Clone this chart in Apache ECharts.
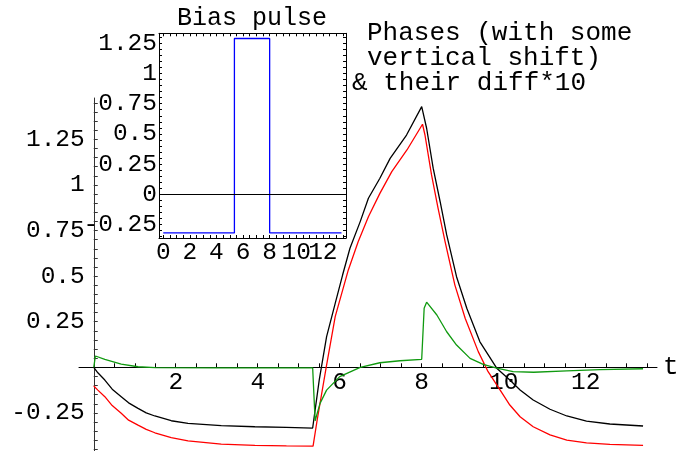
<!DOCTYPE html>
<html>
<head>
<meta charset="utf-8">
<script src="https://cdn.jsdelivr.net/npm/echarts@6/dist/echarts.min.js"></script>
<style>html,body{margin:0;padding:0;background:#fff}#c{width:678px;height:451px}</style>
</head>
<body>
<div id="c"></div>
<script>
// ---- data ----
const blackPhase = [[0,0],[0.1,-0.03],[0.27,-0.07],[0.45,-0.12],[0.67,-0.161],[0.85,-0.195],[1.08,-0.225],[1.28,-0.25],[1.49,-0.267],[1.89,-0.293],[2.3,-0.307],[3.11,-0.32],[3.93,-0.326],[4.7,-0.329],[5.34,-0.333],
  [5.5,-0.07],[5.68,0.168],[5.89,0.351],[6.07,0.506],[6.25,0.653],[6.5,0.799],[6.7,0.927],[6.98,1.037],[7.23,1.146],[7.63,1.274],[8.0,1.43],
  [8.12,1.311],[8.28,1.092],[8.45,0.908],[8.61,0.726],[8.85,0.497],[9.1,0.324],[9.42,0.14],[9.83,-0.005],[10.15,-0.07],[10.4,-0.124],[10.72,-0.179],[11.13,-0.23],[11.54,-0.267],[12.02,-0.295],[12.59,-0.311],[13.4,-0.322]];
const redPhase = [[0,-0.103],[0.1,-0.125],[0.27,-0.161],[0.45,-0.21],[0.67,-0.252],[0.85,-0.29],[1.08,-0.317],[1.28,-0.34],[1.49,-0.359],[1.89,-0.386],[2.3,-0.403],[3.11,-0.421],[3.93,-0.428],[4.7,-0.431],[5.35,-0.432],
  [5.45,-0.289],[5.67,0.0],[5.89,0.278],[6.21,0.534],[6.45,0.689],[6.7,0.826],[6.98,0.954],[7.27,1.073],[7.64,1.192],[8.02,1.333],
  [8.08,1.274],[8.24,1.055],[8.4,0.872],[8.57,0.689],[8.81,0.451],[9.06,0.269],[9.38,0.086],[9.62,-0.024],[9.91,-0.124],[10.15,-0.207],[10.4,-0.271],[10.72,-0.326],[11.13,-0.371],[11.54,-0.399],[12.02,-0.414],[12.59,-0.423],[13.4,-0.428]];
const diffTimes10 = [[0,0],[0.04,0.062],[0.27,0.044],[0.67,0.018],[1.08,0.003],[1.5,-0.002],[3,-0.003],[5.34,-0.003],[5.4,-0.293],[5.52,-0.198],[5.68,-0.125],[6.0,-0.051],[6.5,0],[6.98,0.025],[7.47,0.036],[8.0,0.044],
  [8.06,0.324],[8.12,0.357],[8.37,0.287],[8.61,0.195],[8.85,0.122],[9.18,0.049],[9.5,0.016],[9.83,-0.005],[10.23,-0.024],[10.73,-0.027],[11.54,-0.02],[12.35,-0.013],[13.4,-0.008]];
const biasPulse = [[0,-0.32],[5.35,-0.32],[5.35,1.29],[8.0,1.29],[8.0,-0.32],[13.4,-0.32]];

// ---- tick labels / tick positions ----
const mainXLabels = [2,4,6,8,10,12];
const mainXTicks = [0.5,1,1.5,2,2.5,3,3.5,4,4.5,5,5.5,6,6.5,7,7.5,8,8.5,9,9.5,10,10.5,11,11.5,12,12.5,13,13.5];
const mainYLabels = [-0.25,0.25,0.5,0.75,1,1.25];
const mainYTicks = [-0.45,-0.4,-0.35,-0.3,-0.25,-0.2,-0.15,-0.1,-0.05,0.05,0.1,0.15,0.2,0.25,0.3,0.35,0.4,0.45,0.5,0.55,0.6,0.65,0.7,0.75,0.8,0.85,0.9,0.95,1,1.05,1.1,1.15,1.2,1.25,1.3,1.35,1.4,1.45];
const insetXLabelsA = [0,2,4,6,8,12];
const insetXLabelsB = [10];
const insetXTicks = [0,0.5,1,1.5,2,2.5,3,3.5,4,4.5,5,5.5,6,6.5,7,7.5,8,8.5,9,9.5,10,10.5,11,11.5,12,12.5,13,13.5];
const insetYLabels = [-0.25,0,0.25,0.5,0.75,1,1.25];
const insetYTicks = [-0.35,-0.3,-0.25,-0.2,-0.15,-0.1,-0.05,0,0.05,0.1,0.15,0.2,0.25,0.3,0.35,0.4,0.45,0.5,0.55,0.6,0.65,0.7,0.75,0.8,0.85,0.9,0.95,1,1.05,1.1,1.15,1.2,1.25,1.3];

// ---- ranges ----
const mainX = [-0.36, 13.74], mainY = [-0.459, 1.477];
const insetX = [-0.32, 13.74], insetY = [-0.362, 1.333];
const G0 = {left: 79, top: 98, width: 578, height: 353};
const G1 = {left: 159, top: 33.3, width: 187, height: 204.7};
// axis lines sit at the other axis' zero
const xOff = -(G0.height * (0 - mainY[0]) / (mainY[1] - mainY[0]));
const yOff = -(G0.width * (0 - mainX[0]) / (mainX[1] - mainX[0]));

const FONT = 'Liberation Mono';
const lab = {fontFamily: FONT, fontSize: 24.5, color: '#000', hideOverlap: false, showMinLabel: true, showMaxLabel: true};
const noAxisParts = {axisLine: {show: false}, axisTick: {show: false}, splitLine: {show: false}};

const chart = echarts.init(document.getElementById('c'), null, {renderer: 'canvas'});
chart.setOption({
  animation: false,
  backgroundColor: '#fff',
  grid: [
    Object.assign({outerBoundsMode: 'none', containLabel: false}, G0),
    Object.assign({outerBoundsMode: 'none', containLabel: false}, G1)
  ],
  xAxis: [
    {type: 'value', gridIndex: 0, min: mainX[0], max: mainX[1], position: 'bottom', offset: xOff,
     axisLine: {onZero: false, lineStyle: {color: '#000', width: 1}},
     axisTick: {inside: true, length: 4, customValues: mainXTicks, lineStyle: {color: '#000'}},
     axisLabel: Object.assign({customValues: mainXLabels, margin: 3}, lab),
     splitLine: {show: false},
     name: 't', nameLocation: 'end', nameGap: 6,
     nameTextStyle: {fontFamily: FONT, fontSize: 26, color: '#000'}},
    {type: 'value', gridIndex: 1, min: insetX[0], max: insetX[1], position: 'bottom',
     axisLine: {onZero: false, lineStyle: {color: '#000', width: 1}},
     axisTick: {inside: true, length: 3, customValues: insetXTicks, lineStyle: {color: '#000'}},
     axisLabel: Object.assign({customValues: insetXLabelsA, margin: 2}, lab),
     splitLine: {show: false}},
    Object.assign({type: 'value', gridIndex: 1, min: insetX[0], max: insetX[1], position: 'bottom',
     axisLabel: Object.assign({customValues: insetXLabelsB, margin: 2}, lab)}, noAxisParts),
    {type: 'value', gridIndex: 1, min: insetX[0], max: insetX[1], position: 'top',
     axisLine: {onZero: false, lineStyle: {color: '#000', width: 1}},
     axisTick: {inside: true, length: 3, customValues: insetXTicks, lineStyle: {color: '#000'}},
     axisLabel: {show: false}, splitLine: {show: false}}
  ],
  yAxis: [
    {type: 'value', gridIndex: 0, min: mainY[0], max: mainY[1], position: 'left', offset: yOff,
     axisLine: {show: true, onZero: false, lineStyle: {color: '#333', width: 1}},
     axisTick: {show: true, inside: true, length: 4, customValues: mainYTicks, lineStyle: {color: '#333'}},
     axisLabel: Object.assign({customValues: mainYLabels, margin: 9}, lab),
     splitLine: {show: false}},
    {type: 'value', gridIndex: 1, min: insetY[0], max: insetY[1], position: 'left',
     axisLine: {show: true, onZero: false, lineStyle: {color: '#000', width: 1}},
     axisTick: {show: true, inside: true, length: 3, customValues: insetYTicks, lineStyle: {color: '#000'}},
     axisLabel: Object.assign({customValues: insetYLabels, margin: 2}, lab),
     splitLine: {show: false}},
    {type: 'value', gridIndex: 1, min: insetY[0], max: insetY[1], position: 'right',
     axisLine: {show: true, onZero: false, lineStyle: {color: '#000', width: 1}},
     axisTick: {show: true, inside: true, length: 3, customValues: insetYTicks, lineStyle: {color: '#000'}},
     axisLabel: {show: false}, splitLine: {show: false}}
  ],
  series: [
    {type: 'line', xAxisIndex: 0, yAxisIndex: 0, data: blackPhase, showSymbol: false, symbol: 'none',
     lineStyle: {color: '#000', width: 1.3}, z: 3},
    {type: 'line', xAxisIndex: 0, yAxisIndex: 0, data: redPhase, showSymbol: false, symbol: 'none',
     lineStyle: {color: '#ff0000', width: 1.3}, z: 3},
    {type: 'line', xAxisIndex: 0, yAxisIndex: 0, data: diffTimes10, showSymbol: false, symbol: 'none',
     lineStyle: {color: '#109a10', width: 1.3}, z: 3},
    {type: 'line', xAxisIndex: 1, yAxisIndex: 1, data: biasPulse, showSymbol: false, symbol: 'none',
     lineStyle: {color: '#0000ff', width: 1.3}, z: 4,
     markLine: {silent: true, symbol: 'none', label: {show: false},
       lineStyle: {color: '#000', width: 1, type: 'solid'}, data: [{yAxis: 0}]}}
  ],
  graphic: [
    {type: 'text', x: 252, y: 18, style: {text: 'Bias pulse', fontFamily: FONT, fontSize: 25, fill: '#000', textAlign: 'center', textVerticalAlign: 'middle'}},
    {type: 'text', x: 367, y: 33, style: {text: 'Phases (with some', fontFamily: FONT, fontSize: 26, fill: '#000', textAlign: 'left', textVerticalAlign: 'middle'}},
    {type: 'text', x: 367, y: 58, style: {text: 'vertical shift)', fontFamily: FONT, fontSize: 26, fill: '#000', textAlign: 'left', textVerticalAlign: 'middle'}},
    {type: 'text', x: 352, y: 83, style: {text: '& their diff*10', fontFamily: FONT, fontSize: 26, fill: '#000', textAlign: 'left', textVerticalAlign: 'middle'}}
  ]
});
</script>
</body>
</html>
